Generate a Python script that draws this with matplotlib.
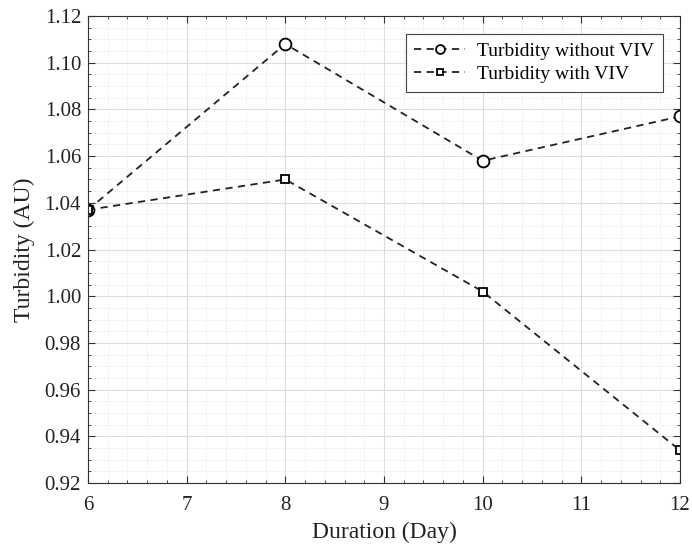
import numpy as np
import matplotlib.pyplot as plt
from matplotlib.ticker import MultipleLocator

plt.rcParams['font.family'] = ['Liberation Serif', 'DejaVu Serif']

# データ
days = [6, 8, 10, 12]
turb_without = [1.037, 1.108, 1.058, 1.077]
turb_with = [1.037, 1.050, 1.002, 0.934]

fig = plt.figure(figsize=(6.92, 5.44), dpi=100)
ax = fig.add_axes([88 / 692, 1 - 483 / 544, (680 - 88) / 692, (483 - 16) / 544])

ax.plot(days, turb_without, '--', color='#222222', lw=1.3, marker='o', ms=8.5,
        mfc='white', mec='black', mew=1.3, label='Turbidity without VIV', dashes=(4, 3))
ax.plot(days, turb_with, '--', color='#222222', lw=1.3, marker='s', ms=6,
        mfc='white', mec='black', mew=1.3, label='Turbidity with VIV', dashes=(4, 3))

ax.set_xlim(6, 12)
ax.set_ylim(0.92, 1.12)
ax.xaxis.set_major_locator(MultipleLocator(1))
ax.xaxis.set_minor_locator(MultipleLocator(0.2))
ax.yaxis.set_major_locator(MultipleLocator(0.02))
ax.yaxis.set_minor_locator(MultipleLocator(0.005))
ax.yaxis.set_major_formatter(plt.FormatStrFormatter('%.2f'))

# グリッド
ax.grid(which='major', color='#dddddd', lw=0.8, ls='-')
ax.grid(which='minor', color='#dddddd', lw=0.6, ls=':')
ax.set_axisbelow(True)

ax.tick_params(which='both', direction='in', top=True, right=True, labelsize=15,
               color='#333333', labelcolor='#222222')
ax.tick_params(which='major', length=5)
ax.tick_params(which='minor', length=2.5)
ax.tick_params(axis='x', which='major', pad=9)
ax.tick_params(axis='y', which='major', pad=5)
for s in ax.spines.values():
    s.set_color('#333333')
    s.set_linewidth(0.8)

ax.set_xlabel('Duration (Day)', fontsize=17, labelpad=5, color='#222222')
ax.set_ylabel('Turbidity (AU)', fontsize=17, labelpad=7, color='#222222')

leg = ax.legend(loc='upper right', fontsize=14, fancybox=False, framealpha=1,
                edgecolor='#444444', handlelength=2.6, borderpad=0.45,
                labelspacing=0.3, borderaxespad=0.9, markerscale=0.75,
                handletextpad=0.6)
leg.get_frame().set_linewidth(0.8)

plt.savefig('out.png', dpi=100)
